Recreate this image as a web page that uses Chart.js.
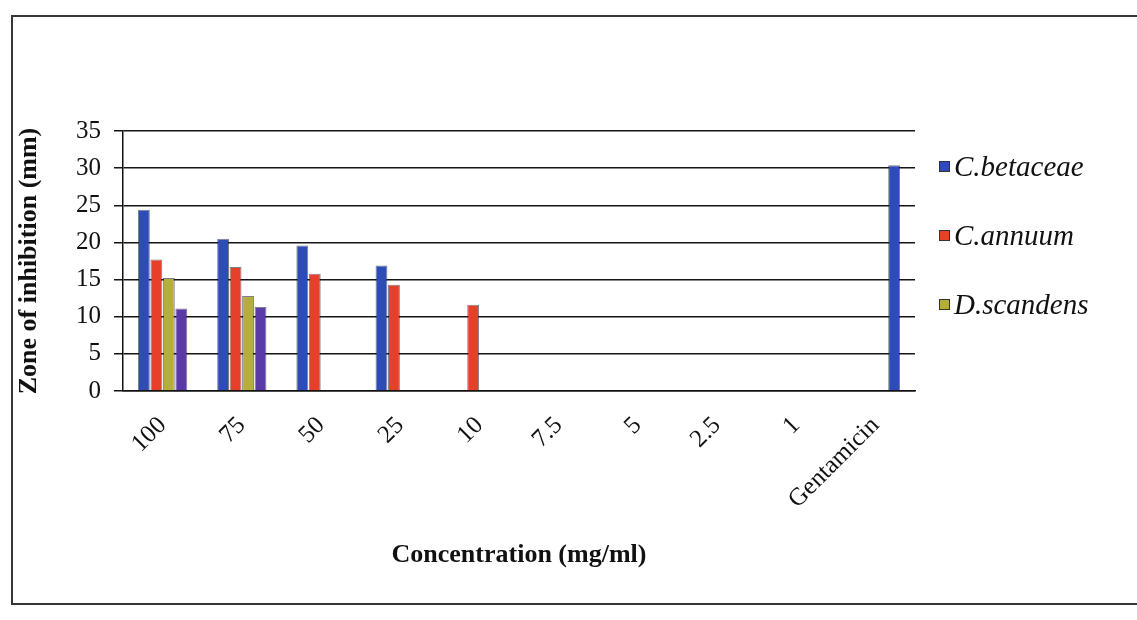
<!DOCTYPE html>
<html>
<head>
<meta charset="utf-8">
<script src="https://cdn.jsdelivr.net/npm/chart.js@4"></script>
<style>
  html, body { margin: 0; padding: 0; background: #fff; }
  #wrap { position: relative; width: 1137px; height: 620px; overflow: hidden; }
  #frame { position: absolute; left: 11px; top: 15px; width: 1160px; height: 590px; border: 2px solid #3a3535; box-sizing: border-box; }
  #chartCanvas { position: absolute; left: 0; top: 0; }
</style>
</head>
<body>
<div id="wrap">
  <div id="frame"></div>
  <canvas id="chartCanvas" width="1137" height="620"></canvas>
</div>
<script>
const categories = ['100', '75', '50', '25', '10', '7.5', '5', '2.5', '1', 'Gentamicin'];
const cBetaceae = [24.4, 20.5, 19.6, 16.9, null, null, null, null, null, null];
const cAnnuum = [17.7, 16.7, 15.8, 14.3, 11.6, null, null, null, null, null];
const dScandens = [15.2, 12.8, null, null, null, null, null, null, null, null];
const series4 = [11.1, 11.3, null, null, null, null, null, null, null, 30.4];
const yTicks = [0, 5, 10, 15, 20, 25, 30, 35];

const blue = '#2d4cb8';
const red = '#e63f2a';
const olive = '#b5ad3c';
const purple = '#5a3aa6';

// the control bar sits in the last slot but is drawn blue
const series4Colors = series4.map((v, i) => categories[i] === 'Gentamicin' ? blue : purple);

const serif = '"Liberation Serif", "DejaVu Serif", serif';

// legend drawn by hand so its spacing can follow the picture
const sideLegend = {
    id: 'sideLegend',
    afterDraw(chart) {
        const ctx = chart.ctx;
        const area = chart.chartArea;
        const items = chart.data.datasets.filter(d => d.inLegend);
        ctx.save();
        ctx.font = 'italic 29px ' + serif;
        ctx.textBaseline = 'middle';
        items.forEach((d, i) => {
            const x = area.right + 24;
            const y = area.top + 36 + i * 69;
            ctx.fillStyle = d.backgroundColor;
            ctx.fillRect(x, y - 6, 11, 11);
            ctx.strokeStyle = '#333';
            ctx.lineWidth = 1;
            ctx.strokeRect(x + 0.5, y - 5.5, 10, 10);
            ctx.fillStyle = '#111';
            ctx.fillText(d.label, x + 15, y + 1);
        });
        ctx.restore();
    }
};

function barSet(label, data, color, inLegend) {
    return {
        label: label,
        data: data,
        backgroundColor: color,
        borderColor: 'rgba(20,20,40,0.55)',
        borderWidth: 1,
        categoryPercentage: 0.63,
        barPercentage: 0.95,
        inLegend: inLegend
    };
}

const ctx = document.getElementById('chartCanvas').getContext('2d');
const chart = new Chart(ctx, {
    type: 'bar',
    data: {
        labels: categories,
        datasets: [
            barSet('C.betaceae', cBetaceae, blue, true),
            barSet('C.annuum', cAnnuum, red, true),
            barSet('D.scandens', dScandens, olive, true),
            barSet('Series4', series4, series4Colors, false)
        ]
    },
    options: {
        responsive: false,
        animation: false,
        layout: {
            padding: { left: 12, top: 131, right: 222, bottom: 48 }
        },
        plugins: {
            legend: { display: false },
            tooltip: { enabled: false }
        },
        scales: {
            x: {
                grid: { display: false },
                border: { display: true, color: '#111', width: 1.5 },
                ticks: {
                    color: '#111',
                    font: { family: serif, size: 25 },
                    maxRotation: 45,
                    minRotation: 45,
                    padding: 12
                },
                title: {
                    display: true,
                    text: 'Concentration (mg/ml)',
                    color: '#111',
                    font: { family: serif, size: 26, weight: 'bold' },
                    padding: { top: 4, bottom: 1 }
                },
                afterFit(scale) { scale.height = 181; }
            },
            y: {
                min: 0,
                max: 35,
                afterBuildTicks(scale) {
                    scale.ticks = yTicks.map(v => ({ value: v }));
                },
                grid: {
                    color: '#151515',
                    lineWidth: 1.5,
                    tickLength: 9
                },
                border: { display: true, color: '#111', width: 1.5 },
                ticks: {
                    color: '#111',
                    font: { family: serif, size: 25 },
                    padding: 13
                },
                title: {
                    display: true,
                    text: 'Zone of inhibition (mm)',
                    color: '#111',
                    font: { family: serif, size: 26, weight: 'bold' },
                    padding: { top: 2, bottom: 0 }
                },
                afterFit(scale) { scale.width = 111; }
            }
        }
    },
    plugins: [sideLegend]
});
</script>
</body>
</html>
